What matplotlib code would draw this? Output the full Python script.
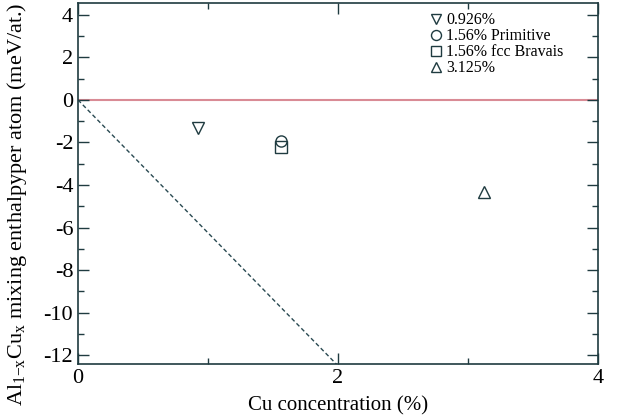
import numpy as np
import matplotlib.pyplot as plt

plt.rcParams['font.family'] = ['Liberation Serif', 'DejaVu Serif']
plt.rcParams['mathtext.fontset'] = 'custom'
plt.rcParams['mathtext.rm'] = 'Liberation Serif'
plt.rcParams['mathtext.it'] = 'Liberation Serif'
plt.rcParams['axes.unicode_minus'] = False

# Cu concentration (%) and mixing enthalpy (meV/at.)
labels = ['0.926%', '1.56% Primitive', '1.56% fcc Bravais', '3.125%']
conc = [0.926, 1.56, 1.56, 3.125]
enthalpy = [-1.32, -1.93, -2.2, -4.33]
markers = ['v', 'o', 's', '^']

# dashed reference line
line_x = [0.0, 2.0]
line_y = [0.0, -12.5]

fig = plt.figure(figsize=(6.19, 4.18), dpi=100)
ax = fig.add_axes([0.126, 0.129, 0.840, 0.864])

ink = '#1f3b40'
ax.axhline(0, color='#d98b95', lw=1.5, zorder=1)
ax.plot(line_x, line_y, ls=(0, (3, 2)), color='#2a4a52', lw=1.0, zorder=2)

for xv, yv, m, lab in zip(conc, enthalpy, markers, labels):
    ax.plot(xv, yv, ls='none', marker=m, ms=8, mfc='none', mec=ink, mew=1.0, label=lab)

ax.set_xlim(0, 4)
ax.set_ylim(-12.42, 4.56)
ax.set_xticks([0, 2, 4])
ax.set_xticks([1, 3], minor=True)
ax.set_yticks(np.arange(-12, 5, 2))
ax.set_yticks(np.arange(-11, 5, 2), minor=True)
ax.tick_params(which='both', direction='in', top=True, right=True, color=ink, labelsize=16)
ax.tick_params(which='major', length=8, width=1.0)
ax.tick_params(which='minor', length=4, width=1.0)
for s in ax.spines.values():
    s.set_color(ink)
    s.set_linewidth(1.2)

ax.set_xlabel('Cu concentration (%)', fontsize=15, labelpad=6)
ax.set_ylabel(r'Al$_{1\mathrm{-x}}$Cu$_{\mathrm{x}}$ mixing enthalpyper atom (meV/at.)',
              fontsize=16)
ax.yaxis.set_label_coords(-0.095, 0.443)

ax.legend(loc='upper right', bbox_to_anchor=(0.955, 1.005), frameon=False, fontsize=11.5,
          handletextpad=0.1, labelspacing=0.0, handlelength=1.0, borderpad=0.2,
          markerscale=0.9)

fig.savefig('out.png', dpi=100)
